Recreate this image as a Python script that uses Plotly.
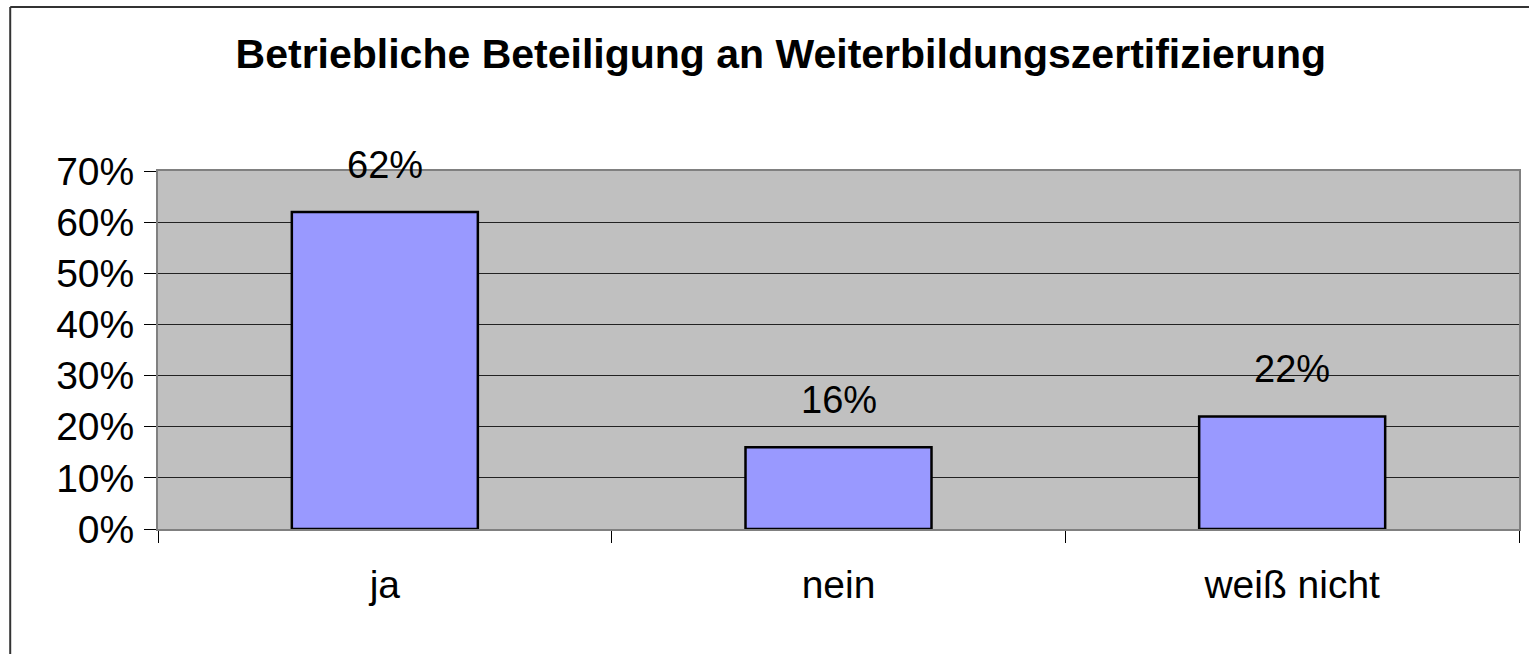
import plotly.graph_objects as go

categories = ["ja", "nein", "weiß nicht"]
values = [62, 16, 22]
y_ticks = [0, 10, 20, 30, 40, 50, 60, 70]
y_tick_labels = ["0%", "10%", "20%", "30%", "40%", "50%", "60%", "70%"]
title_text = "Betriebliche Beteiligung an Weiterbildungszertifizierung"

W, H = 1531, 654
ML, MR, MT, MB = 158, 10, 171, 125
pw = W - ML - MR
ph = H - MT - MB
FONT = "Liberation Sans, Arial"

fig = go.Figure()
fig.add_trace(go.Bar(
    x=categories, y=values, width=0.41,
    marker=dict(color="#9999FF", line=dict(color="black", width=2.5)),
    hoverinfo="skip",
))

for c, v in zip(categories, values):
    fig.add_annotation(x=c, y=v, text=f"{v}%", showarrow=False,
                       yanchor="bottom", yshift=24,
                       font=dict(family=FONT, size=38, color="black"))

fig.update_layout(
    width=W, height=H,
    margin=dict(l=ML, r=MR, t=MT, b=MB),
    paper_bgcolor="white", plot_bgcolor="#C0C0C0",
    showlegend=False,
    title=dict(text="<b>" + title_text + "</b>", x=0.51, xanchor="center",
               y=1 - 54 / H, yanchor="middle",
               font=dict(family=FONT, size=41, color="black")),
    font=dict(family=FONT, size=39, color="black"),
)

fig.update_xaxes(
    type="category", tickson="boundaries",
    ticks="outside", ticklen=12, tickcolor="black", tickwidth=1,
    showgrid=False, showline=True, linecolor="#808080", linewidth=2, mirror=True,
    tickfont=dict(size=39), ticklabelstandoff=20,
)
fig.update_yaxes(
    range=[0, 70], tickvals=y_ticks, ticktext=y_tick_labels,
    ticks="outside", ticklen=12, tickcolor="black", tickwidth=1,
    showgrid=True, gridcolor="#222222", gridwidth=1,
    showline=True, linecolor="#808080", linewidth=2, mirror=True,
    zeroline=False, tickfont=dict(size=39), ticklabelstandoff=2,
)

# outer chart border: only left and top edges are visible in the reference
bx = (10 - ML) / pw
by = 1 + (MT - 7) / ph
fig.add_shape(type="line", xref="paper", yref="paper",
              x0=bx, x1=bx, y0=-MB / ph, y1=by,
              line=dict(color="#333333", width=2), layer="below")
fig.add_shape(type="line", xref="paper", yref="paper",
              x0=bx, x1=1 + MR / pw, y0=by, y1=by,
              line=dict(color="#333333", width=2), layer="below")

fig.write_html("out.html", config={"displayModeBar": False},
               post_script="document.body.style.margin='0';document.body.style.overflow='hidden';")
